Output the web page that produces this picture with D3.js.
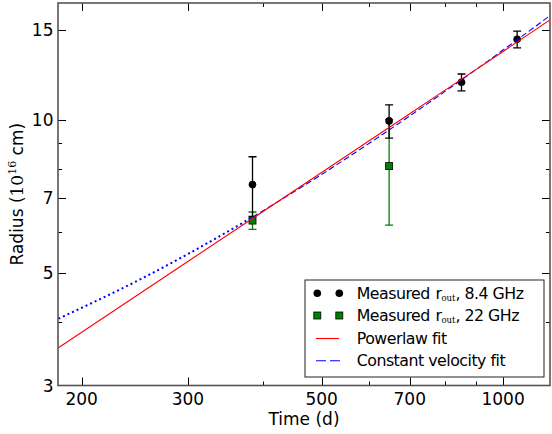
<!DOCTYPE html>
<html>
<head>
<meta charset="utf-8">
<script src="https://cdn.jsdelivr.net/npm/d3@7"></script>
<style>
  body { margin: 0; background: #fff; }
  svg text { font-family: "DejaVu Sans", sans-serif; fill: #000; }
</style>
</head>
<body>
<div id="chart"></div>
<script>
// measured outer radius, 8.4 GHz (days, 1e16 cm)
var t84 = [384, 647, 853, 1055];
var r84 = [7.45, 9.94, 11.84, 14.38];
var e84 = [1.0, 0.75, 0.45, 0.55];

// measured outer radius, 22 GHz
var t22 = [384, 647];
var r22 = [6.33, 8.1];
var e22 = [0.25, 1.9];

// fit curves
var powT = [183, 300, 500, 700, 1000, 1196];
var powR = [3.56, 5.26, 7.87, 10.27, 13.61, 15.7];
var velDotT = [183, 250, 300, 384];
var velDotR = [4.06, 4.85, 5.44, 6.43];
var velDashT = [384, 500, 647, 853, 1055, 1187];
var velDashR = [6.43, 7.8, 9.54, 11.97, 14.35, 15.9];

var xTicks = [200, 300, 500, 700, 1000];
var xMinor = [400, 600, 800, 900];
var yTicks = [3, 5, 7, 10, 15];
var yMinor = [4, 6, 8, 9];

var width = 552,
  height = 434;

var pL = 58, pR = 550, pT = 3, pB = 385.5;

var svg = d3
  .select("#chart")
  .append("svg")
  .attr("width", width)
  .attr("height", height);

var x = d3.scaleLog().domain([182.7, 1196]).range([pL, pR]);
var y = d3.scaleLog().domain([3, 16.95]).range([pB, pT]);

svg.append("clipPath").attr("id", "clip")
  .append("rect")
  .attr("x", pL).attr("y", pT)
  .attr("width", pR - pL).attr("height", pB - pT);

var plot = svg.append("g").attr("clip-path", "url(#clip)");

// error bars
function errorbars(ts, rs, es, color) {
  var g = plot.append("g");
  ts.forEach(function (t, i) {
    var cx = x(t);
    g.append("line")
      .attr("x1", cx).attr("x2", cx)
      .attr("y1", y(rs[i] + es[i])).attr("y2", y(rs[i] - es[i]))
      .attr("stroke", color).attr("stroke-width", 1.3);
    [rs[i] + es[i], rs[i] - es[i]].forEach(function (v) {
      g.append("line")
        .attr("x1", cx - 4).attr("x2", cx + 4)
        .attr("y1", y(v)).attr("y2", y(v))
        .attr("stroke", color).attr("stroke-width", 1.3);
    });
  });
  return g;
}

errorbars(t22, r22, e22, "#008000");
plot.selectAll(".sq")
  .data(t22)
  .enter()
  .append("rect")
  .attr("x", function (d) { return x(d) - 3.5; })
  .attr("y", function (d, i) { return y(r22[i]) - 3.5; })
  .attr("width", 7).attr("height", 7)
  .attr("fill", "#008000").attr("stroke", "#000").attr("stroke-width", 0.8);

errorbars(t84, r84, e84, "#000");
plot.selectAll(".dot")
  .data(t84)
  .enter()
  .append("circle")
  .attr("cx", function (d) { return x(d); })
  .attr("cy", function (d, i) { return y(r84[i]); })
  .attr("r", 3.8)
  .attr("fill", "#000");

// fits
var line = d3.line()
  .x(function (d) { return x(d[0]); })
  .y(function (d) { return y(d[1]); })
  .curve(d3.curveMonotoneX);

plot.append("path")
  .attr("d", line(d3.zip(velDotT, velDotR)))
  .attr("fill", "none").attr("stroke", "#0000ff")
  .attr("stroke-width", 2).attr("stroke-dasharray", "2,3");

plot.append("path")
  .attr("d", line(d3.zip(velDashT, velDashR)))
  .attr("fill", "none").attr("stroke", "#0000ff")
  .attr("stroke-width", 1.1).attr("stroke-dasharray", "6,3");

plot.append("path")
  .attr("d", line(d3.zip(powT, powR)))
  .attr("fill", "none").attr("stroke", "#ff0000")
  .attr("stroke-width", 1.1);

// ticks, inward on all four sides
var tk = svg.append("g").attr("stroke", "#000").attr("stroke-width", 1);
function xt(vals, len) {
  vals.forEach(function (v) {
    var px = Math.round(x(v)) + 0.5;
    tk.append("line").attr("x1", px).attr("x2", px).attr("y1", pB).attr("y2", pB - len);
    tk.append("line").attr("x1", px).attr("x2", px).attr("y1", pT).attr("y2", pT + len);
  });
}
function yt(vals, len) {
  vals.forEach(function (v) {
    var py = Math.round(y(v)) + 0.5;
    tk.append("line").attr("x1", pL).attr("x2", pL + len).attr("y1", py).attr("y2", py);
    tk.append("line").attr("x1", pR).attr("x2", pR - len).attr("y1", py).attr("y2", py);
  });
}
xt(xTicks, 8);
xt(xMinor, 4);
yt(yTicks.filter(function (d) { return d > 3; }), 8);
yt(yMinor, 4);

svg.append("rect")
  .attr("x", pL).attr("y", pT)
  .attr("width", pR - pL).attr("height", pB - pT)
  .attr("fill", "none").attr("stroke", "#555").attr("stroke-width", 1.6);

// tick labels
svg.selectAll(".xl")
  .data(xTicks)
  .enter()
  .append("text")
  .attr("x", function (d) { return x(d); })
  .attr("y", 404.5)
  .attr("text-anchor", "middle")
  .style("font-size", "17px")
  .text(function (d) { return d; });

svg.selectAll(".yl")
  .data(yTicks)
  .enter()
  .append("text")
  .attr("x", 53.5)
  .attr("y", function (d) { return y(d) + 6.1; })
  .attr("text-anchor", "end")
  .style("font-size", "17px")
  .text(function (d) { return d; });

svg.append("text")
  .attr("x", 304).attr("y", 424.5)
  .attr("text-anchor", "middle")
  .style("font-size", "17px")
  .text("Time (d)");

var yl = svg.append("text")
  .attr("transform", "translate(23.3,194.2) rotate(-90)")
  .attr("text-anchor", "middle")
  .style("font-size", "17px");
yl.append("tspan").text("Radius (");
yl.append("tspan").style("font-family", "DejaVu Serif").text("10");
yl.append("tspan").attr("dy", -7).style("font-family", "DejaVu Serif").style("font-size", "11px").text("16");
yl.append("tspan").attr("dy", 7).text(" cm)");

// legend
var lg = svg.append("g");
lg.append("rect")
  .attr("x", 305).attr("y", 280)
  .attr("width", 239).attr("height", 97)
  .attr("fill", "#fff").attr("stroke", "#222").attr("stroke-width", 1);

var rows = [293.3, 315.5, 338.5, 360.7];
var labels = [
  ["Measured ", "r", "out", ", 8.4 GHz"],
  ["Measured ", "r", "out", ", 22 GHz"],
  ["Powerlaw fit"],
  ["Constant velocity fit"]
];

[317.3, 339.3].forEach(function (mx) {
  lg.append("circle").attr("cx", mx).attr("cy", rows[0]).attr("r", 3.8).attr("fill", "#000");
  lg.append("rect").attr("x", mx - 3.5).attr("y", rows[1] - 3.5)
    .attr("width", 7).attr("height", 7)
    .attr("fill", "#008000").attr("stroke", "#000").attr("stroke-width", 0.8);
});
lg.append("line").attr("x1", 316).attr("x2", 339).attr("y1", rows[2]).attr("y2", rows[2])
  .attr("stroke", "#ff0000").attr("stroke-width", 1.1);
lg.append("line").attr("x1", 316).attr("x2", 340).attr("y1", rows[3]).attr("y2", rows[3])
  .attr("stroke", "#0000ff").attr("stroke-width", 1.1).attr("stroke-dasharray", "10,4");

labels.forEach(function (parts, i) {
  var t = lg.append("text")
    .attr("x", 356.7).attr("y", rows[i] + 5.7)
    .style("font-size", "15.8px")
    .style("letter-spacing", "-0.5px");
  t.append("tspan").text(parts[0]);
  if (parts.length > 1) {
    t.append("tspan").attr("dx", 1).text(parts[1]);
    t.append("tspan").attr("dy", 2).style("font-family", "DejaVu Serif")
      .style("font-size", "8.5px").style("letter-spacing", "0px").text(parts[2]);
    t.append("tspan").attr("dy", -2).text(parts[3]);
  }
});
</script>
</body>
</html>
